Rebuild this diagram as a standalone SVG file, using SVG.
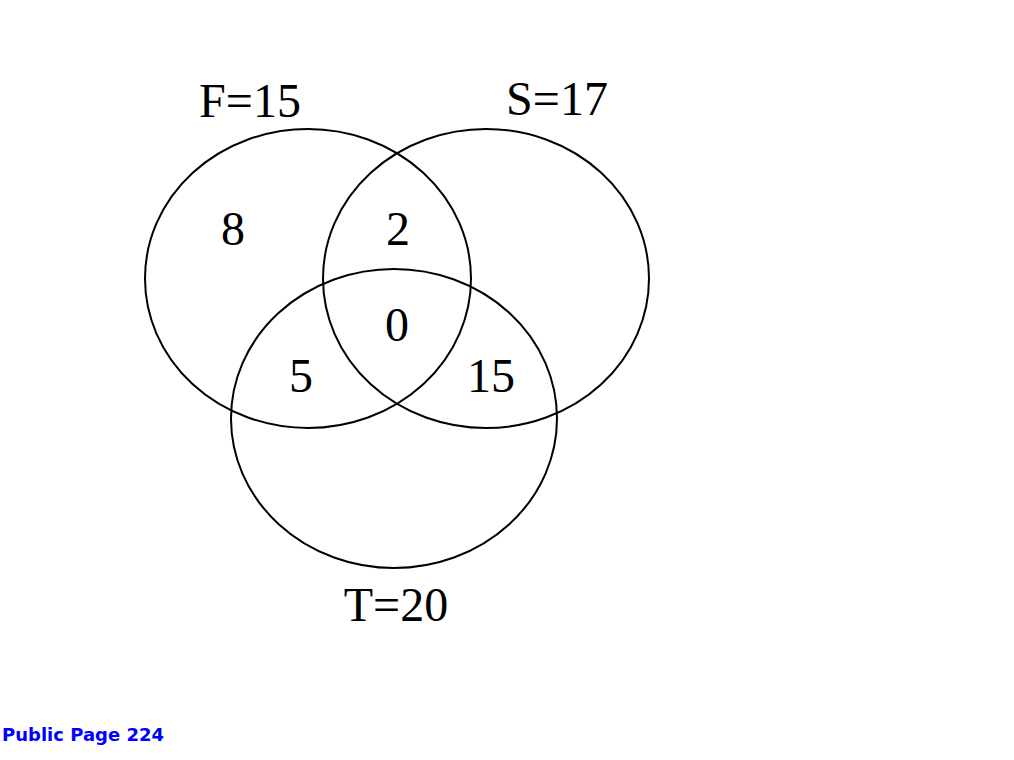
<svg xmlns="http://www.w3.org/2000/svg" width="1014" height="760" viewBox="0 0 1014 760">
<style>
.c{fill:none;stroke:#000;stroke-width:2}
.t{font-family:"Liberation Serif","Times New Roman",serif;font-size:48px;fill:#000;text-anchor:middle}
.f{font-family:"DejaVu Sans",sans-serif;font-weight:bold;font-size:18px;fill:#0000ff}
</style>
<rect width="1014" height="760" fill="#fff"/>
<g id="circles">
<g id="F"><ellipse class="c" cx="308" cy="278.5" rx="163" ry="149.5"/><text class="t" x="250" y="117">F=15</text></g>
<g id="S"><ellipse class="c" cx="486" cy="278.5" rx="163" ry="149.5"/><text class="t" x="557" y="115">S=17</text></g>
<g id="T"><ellipse class="c" cx="394" cy="418.5" rx="163" ry="149.5"/><text class="t" x="396" y="621">T=20</text></g>
</g>
<g id="regions">
<text class="t" x="233" y="245">8</text>
<text class="t" x="398" y="245">2</text>
<text class="t" x="397" y="341">0</text>
<text class="t" x="301" y="392">5</text>
<text class="t" x="491" y="392">15</text>
</g>
<text class="f" x="2" y="741">Public Page 224</text>
</svg>
